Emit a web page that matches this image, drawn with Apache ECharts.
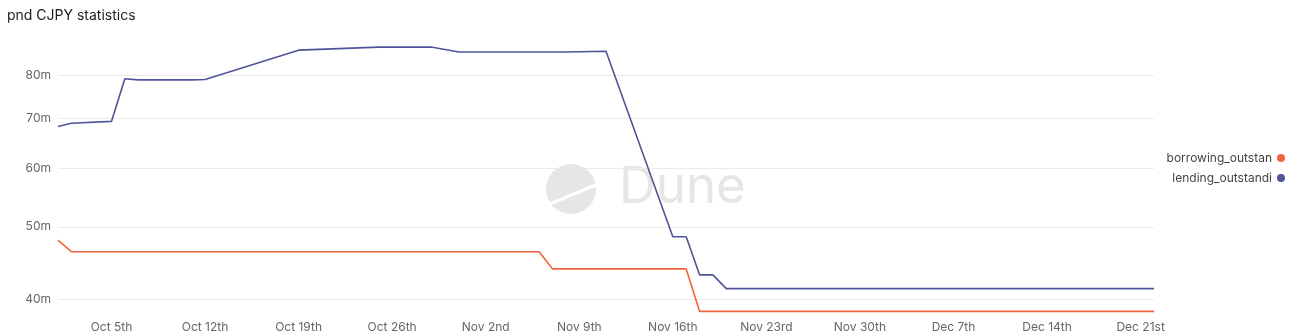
<!DOCTYPE html>
<html>
<head>
<meta charset="utf-8">
<script src="https://cdn.jsdelivr.net/npm/echarts@6/dist/echarts.min.js"></script>
<style>
html,body{margin:0;padding:0;background:#fff;}
#c{width:1292px;height:335px;}
</style>
</head>
<body>
<div id="c"></div>
<script>
// Daily categories: Oct 1 .. Dec 22
var monthNames = ['Oct', 'Nov', 'Dec'];
var monthDays = [31, 30, 22];
var categories = [];
for (var m = 0; m < monthNames.length; m++) {
  for (var d = 1; d <= monthDays[m]; d++) categories.push(monthNames[m] + ' ' + d);
}
var xTickLabels = ['Oct 5th','Oct 12th','Oct 19th','Oct 26th','Nov 2nd','Nov 9th','Nov 16th','Nov 23rd','Nov 30th','Dec 7th','Dec 14th','Dec 21st'];
var yTickValues = [40, 50, 60, 70, 80];
var seriesNames = ['borrowing_outstanding', 'lending_outstanding'];
var legendLabels = {borrowing_outstanding: 'borrowing_outstan', lending_outstanding: 'lending_outstandi'};

// values in millions
var lendingOutstanding = [
  68.2, 68.9, null, null, 69.3, 79.1, 78.8, 78.8, 78.8, 78.8, 78.8, 78.9,
  null, null, null, null, null, null,
  86.4,
  null, null, null, null, null,
  87.2, 87.2, 87.2, 87.2, 87.2,
  null,
  85.9, 85.9, 85.9, 85.9, 85.9, 85.9, 85.9, 85.9, 85.9,
  null, null,
  86.1,
  null, null, null, null,
  48.5, 48.5,
  43.1, 43.1,
  41.3, 41.3, 41.3, 41.3, 41.3, 41.3, 41.3, 41.3, 41.3, 41.3, 41.3,
  41.3, 41.3, 41.3, 41.3, 41.3, 41.3, 41.3, 41.3, 41.3, 41.3, 41.3,
  41.3, 41.3, 41.3, 41.3, 41.3, 41.3, 41.3, 41.3, 41.3, 41.3, 41.3
];
var borrowingOutstanding = [
  48.0,
  46.3, 46.3, 46.3, 46.3, 46.3, 46.3, 46.3, 46.3, 46.3, 46.3, 46.3, 46.3,
  46.3, 46.3, 46.3, 46.3, 46.3, 46.3, 46.3, 46.3, 46.3, 46.3, 46.3, 46.3,
  46.3, 46.3, 46.3, 46.3, 46.3, 46.3, 46.3, 46.3, 46.3, 46.3, 46.3, 46.3,
  43.9, 43.9, 43.9, 43.9, 43.9, 43.9, 43.9, 43.9, 43.9, 43.9, 43.9,
  38.5, 38.5, 38.5, 38.5, 38.5, 38.5, 38.5, 38.5, 38.5, 38.5, 38.5, 38.5,
  38.5, 38.5, 38.5, 38.5, 38.5, 38.5, 38.5, 38.5, 38.5, 38.5, 38.5, 38.5,
  38.5, 38.5, 38.5, 38.5, 38.5, 38.5, 38.5, 38.5, 38.5, 38.5, 38.5
];

var FONT = 'Inter, "Noto Sans", sans-serif';
var chart = echarts.init(document.getElementById('c'), null, {renderer: 'canvas'});
chart.setOption({
  animation: false,
  backgroundColor: '#ffffff',
  title: {
    text: 'pnd CJPY statistics',
    left: 2, top: 4,
    textStyle: {fontFamily: FONT, fontSize: 14, fontWeight: 'normal', color: '#1c1c1c'}
  },
  graphic: [
    {type: 'circle', shape: {cx: 571, cy: 189, r: 25}, style: {fill: '#e6e6e6'}, z: -10, silent: true},
    {type: 'line', shape: {x1: 545, y1: 206, x2: 598, y2: 184}, style: {stroke: '#ffffff', lineWidth: 3}, z: -9, silent: true},
    {type: 'text', left: 619, top: 162, style: {text: 'Dune', font: '51px ' + FONT, fill: '#e6e6e6'}, z: -10, silent: true}
  ],
  legend: {
    orient: 'vertical',
    right: 2, top: 147,
    align: 'right',
    icon: 'circle',
    itemWidth: 8, itemHeight: 8, itemGap: 8,
    formatter: function (name) { return legendLabels[name] || name; },
    textStyle: {fontFamily: FONT, fontSize: 12, color: '#444'},
    data: seriesNames
  },
  grid: {left: 58, right: 138, top: 30, bottom: 18, containLabel: false},
  xAxis: {
    type: 'category',
    data: categories,
    boundaryGap: false,
    axisLine: {show: false},
    axisTick: {show: false},
    splitLine: {show: false},
    axisLabel: {
      fontFamily: FONT, fontSize: 12, color: '#666', margin: 4,
      interval: function (idx) { return idx >= 4 && (idx - 4) % 7 === 0; },
      formatter: function (val, idx) { return xTickLabels[(idx - 4) / 7] || ''; }
    }
  },
  yAxis: {
    type: 'log',
    logBase: 10,
    min: 37.83, max: 91.96,
    axisLine: {show: false},
    axisTick: {show: false, customValues: yTickValues},
    splitLine: {show: true, lineStyle: {color: '#ebebeb', width: 1}},
    axisLabel: {
      customValues: yTickValues,
      fontFamily: FONT, fontSize: 12, color: '#666', margin: 7,
      formatter: function (v) { return Math.round(v) + 'm'; }
    }
  },
  series: [
    {
      name: seriesNames[0], type: 'line', data: borrowingOutstanding,
      connectNulls: true, showSymbol: false, symbol: 'none',
      lineStyle: {color: '#f0643f', width: 1.6}, itemStyle: {color: '#f0643f'}
    },
    {
      name: seriesNames[1], type: 'line', data: lendingOutstanding,
      connectNulls: true, showSymbol: false, symbol: 'none',
      lineStyle: {color: '#4f5499', width: 1.6}, itemStyle: {color: '#4f5499'}
    }
  ]
});
</script>
</body>
</html>
